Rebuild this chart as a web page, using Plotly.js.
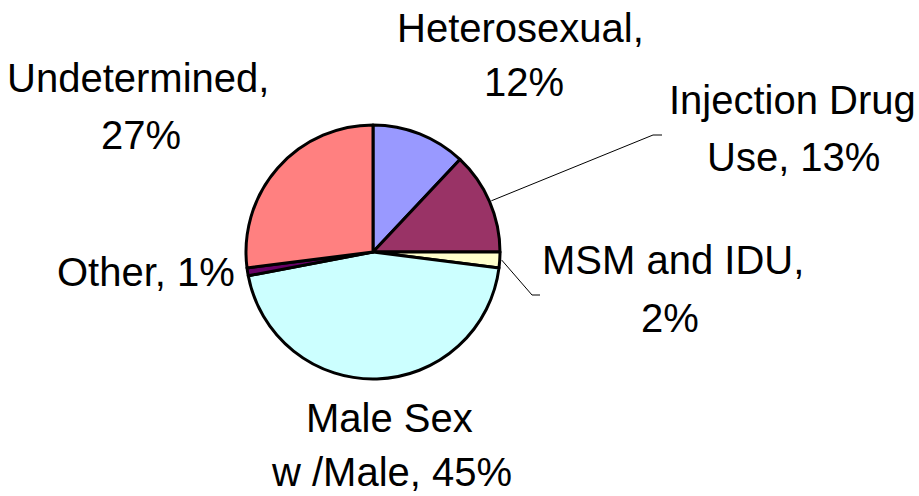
<!DOCTYPE html>
<html>
<head>
<meta charset="utf-8">
<script src="https://cdn.plot.ly/plotly-3.0.1.min.js"></script>
<style>html,body{margin:0;padding:0;background:#fff;}#chart{width:919px;height:496px;}</style>
</head>
<body>
<div id="chart"></div>
<script>
const categories = ["Heterosexual", "Injection Drug Use", "MSM and IDU", "Male Sex w /Male", "Other", "Undetermined"];
const values = [12, 13, 2, 45, 1, 27];
const labelLines = [["Heterosexual,", "12%"], ["Injection Drug", "Use, 13%"], ["MSM and IDU,", "2%"], ["Male Sex", "w /Male, 45%"], ["Other, 1%"], ["Undetermined,", "27%"]];
const colors = ["#9999FF", "#993366", "#FFFFCC", "#CCFFFF", "#660066", "#FF8080"];

const W = 919, H = 496;
const cx = 373, cy = 252, R = 127;
const FS = 40;
// per-line label placement in pixels: [centerX, baseline]
const linePos = [
  [[520, 43], [524, 97]],
  [[792, 115], [793, 172]],
  [[673, 275], [670, 333]],
  [[389, 433], [391, 487]],
  [[146, 287]],
  [[138, 93], [141, 150]]
];
// leader line ends (pixels) for slices that have leaders
const leaders = {1: [[653, 135], [662, 135]], 2: [[532, 295], [540, 295]]};

const px = x => x / W;
const py = y => 1 - y / H;

const total = values.reduce((a, b) => a + b, 0);
const shapes = [];
let cum = 0;
values.forEach((v, i) => {
  const mid = (cum + v / 2) / total * 2 * Math.PI;
  cum += v;
  if (leaders[i]) {
    const sx = cx + (R + 2) * Math.sin(mid);
    const sy = cy - (R + 2) * Math.cos(mid);
    const pts = [[sx, sy]].concat(leaders[i]);
    shapes.push({
      type: "path", xref: "paper", yref: "paper",
      path: "M " + pts.map(p => px(p[0]) + "," + py(p[1])).join(" L "),
      line: {color: "#000", width: 1}
    });
  }
});

const annotations = [];
labelLines.forEach((lines, i) => {
  lines.forEach((t, j) => {
    const p = linePos[i][j];
    annotations.push({
      text: t, xref: "paper", yref: "paper",
      x: px(p[0]), y: py(p[1] - 0.37 * FS),
      xanchor: "center", yanchor: "middle", showarrow: false, align: "center",
      font: {family: "Liberation Sans, Arial, sans-serif", size: FS, color: "#000"}
    });
  });
});

const trace = {
  type: "pie",
  labels: categories,
  values: values,
  sort: false,
  direction: "clockwise",
  rotation: 0,
  textinfo: "none",
  hoverinfo: "label+percent",
  marker: {colors: colors, line: {color: "#000", width: 3}},
  domain: {x: [px(cx - R), px(cx + R)], y: [py(cy + R), py(cy - R)]},
  showlegend: false
};

const layout = {
  width: W, height: H,
  margin: {l: 0, r: 0, t: 0, b: 0},
  paper_bgcolor: "#fff", plot_bgcolor: "#fff",
  showlegend: false,
  annotations: annotations,
  shapes: shapes
};

Plotly.newPlot("chart", [trace], layout, {displayModeBar: false, staticPlot: true});
</script>
</body>
</html>
